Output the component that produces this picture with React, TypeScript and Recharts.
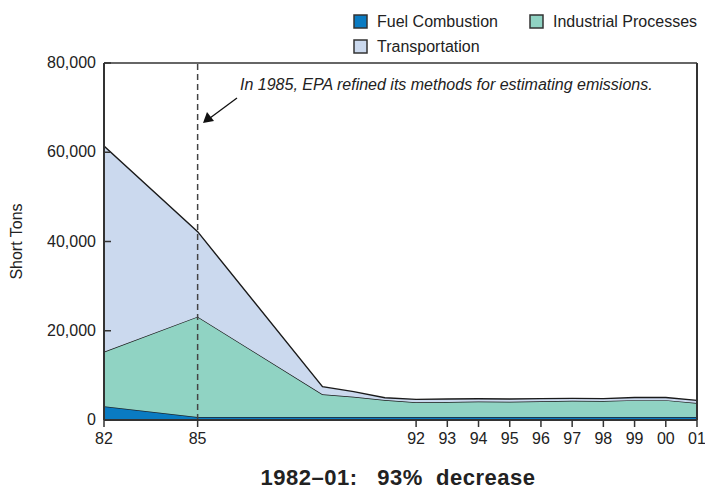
import React from 'react';
import { AreaChart, Area, XAxis, YAxis, ReferenceLine } from 'recharts';

const years = [1982, 1985, 1989, 1990, 1991, 1992, 1993, 1994, 1995, 1996, 1997, 1998, 1999, 2000, 2001];
const fuelCombustion = [3100, 700, 700, 700, 700, 700, 700, 700, 700, 700, 700, 700, 700, 700, 700];
const industrialProcesses = [12200, 22450, 5060, 4520, 3780, 3260, 3350, 3450, 3400, 3500, 3600, 3550, 3750, 3750, 3100];
const transportation = [46100, 19050, 1700, 1130, 520, 670, 650, 600, 600, 600, 550, 550, 600, 600, 600];
const xTicks = [1982, 1985, 1992, 1993, 1994, 1995, 1996, 1997, 1998, 1999, 2000, 2001];
const yTicks = [0, 20000, 40000, 60000, 80000];

const seriesNames = ['Fuel Combustion', 'Industrial Processes', 'Transportation'];
const seriesColors = ['#0a7bc2', '#90d3c3', '#cbd9ee'];

const data = years.map((y, i) => ({
  year: y,
  fuel: fuelCombustion[i],
  industrial: industrialProcesses[i],
  transportation: transportation[i],
}));

const FONT = '"Liberation Sans", Arial, Helvetica, sans-serif';

const YTick = (props: any) => {
  const { x, y, payload } = props;
  return (
    <g>
      <line x1={x + 8} x2={x + 15} y1={y} y2={y} stroke="#333" strokeWidth={1.5} />
      <text x={x} y={y} dy={5} textAnchor="end" fontSize={16} fill="#222" fontFamily={FONT}>
        {Number(payload.value).toLocaleString('en-US')}
      </text>
    </g>
  );
};

const fmtYear = (v: number) => String(v % 100).padStart(2, '0');

export default function App() {
  return (
    <div style={{ position: 'absolute', left: 0, top: 0, width: 705, height: 496, background: '#fff', fontFamily: FONT }}>
      <AreaChart
        width={705}
        height={496}
        data={data}
        margin={{ top: 63, right: 8, left: 0, bottom: 46 }}
      >
        <XAxis
          dataKey="year"
          type="number"
          domain={[1982, 2001]}
          ticks={xTicks}
          tickFormatter={fmtYear}
          height={30}
          tickSize={7}
          tickMargin={6}
          axisLine={{ stroke: '#333', strokeWidth: 2 }}
          tickLine={{ stroke: '#333', strokeWidth: 1.5 }}
          tick={{ fontSize: 16, fill: '#222', fontFamily: FONT }}
          allowDataOverflow
        />
        <YAxis
          type="number"
          domain={[0, 80000]}
          ticks={yTicks}
          width={104}
          tickSize={8}
          tickMargin={0}
          tickLine={false}
          axisLine={{ stroke: '#333', strokeWidth: 2 }}
          tick={<YTick />}
          label={{
            content: (p: any) => {
              const vb = p.viewBox || { x: 0, y: 63, width: 104, height: 357 };
              const cy = vb.y + vb.height / 2;
              return (
                <text
                  x={22}
                  y={cy}
                  transform={`rotate(-90, 22, ${cy})`}
                  textAnchor="middle"
                  fontSize={16}
                  fill="#222"
                  fontFamily={FONT}
                >
                  Short Tons
                </text>
              );
            },
          }}
        />
        <Area type="linear" dataKey="fuel" name={seriesNames[0]} stackId="1" fill={seriesColors[0]} fillOpacity={1} stroke="#1a2630" strokeWidth={1.5} isAnimationActive={false} />
        <Area type="linear" dataKey="industrial" name={seriesNames[1]} stackId="1" fill={seriesColors[1]} fillOpacity={1} stroke="#1a1a1a" strokeWidth={1.4} isAnimationActive={false} />
        <Area type="linear" dataKey="transportation" name={seriesNames[2]} stackId="1" fill={seriesColors[2]} fillOpacity={1} stroke="#1a1a1a" strokeWidth={1.4} isAnimationActive={false} />
        <ReferenceLine x={1985} stroke="#444" strokeWidth={1.5} strokeDasharray="6 4" />
        <ReferenceLine y={80000} stroke="#333" strokeWidth={1.5} />
        <ReferenceLine x={2001} stroke="#333" strokeWidth={2} />
      </AreaChart>
      <svg width={705} height={496} style={{ position: 'absolute', left: 0, top: 0, pointerEvents: 'none' }}>
        {/* legend */}
        <rect x={354} y={15} width={13} height={13} fill={seriesColors[0]} stroke="#333" strokeWidth={1.5} />
        <text x={377} y={27} fontSize={16} fill="#222" fontFamily={FONT}>{seriesNames[0]}</text>
        <rect x={530} y={15} width={13} height={13} fill={seriesColors[1]} stroke="#333" strokeWidth={1.5} />
        <text x={553} y={27} fontSize={16} fill="#222" fontFamily={FONT}>{seriesNames[1]}</text>
        <rect x={354} y={40} width={13} height={13} fill={seriesColors[2]} stroke="#333" strokeWidth={1.5} />
        <text x={377} y={52} fontSize={16} fill="#222" fontFamily={FONT}>{seriesNames[2]}</text>
        {/* annotation */}
        <text x={240} y={90} fontSize={16} fontStyle="italic" fill="#222" fontFamily={FONT}>
          In 1985, EPA refined its methods for estimating emissions.
        </text>
        <line x1={237} y1={98} x2={210} y2={118} stroke="#111" strokeWidth={1.3} />
        <polygon points="203,123 207,112 214,121" fill="#111" />
        {/* title */}
        <text x={398} y={485} textAnchor="middle" fontSize={22} fontWeight="bold" letterSpacing={0.5} fill="#222" fontFamily={FONT} style={{ whiteSpace: 'pre' }}>
          {'1982–01:   93%  decrease'}
        </text>
      </svg>
    </div>
  );
}
